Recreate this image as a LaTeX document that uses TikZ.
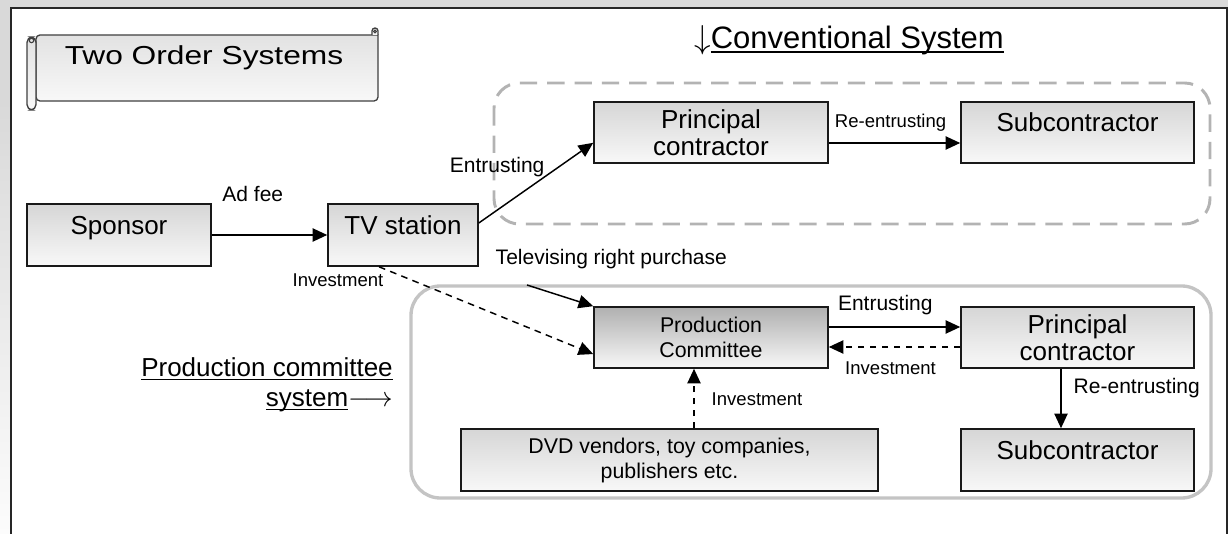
\documentclass[tikz,border=0pt]{standalone}
\usepackage{fontspec}
\setmainfont{Liberation Sans}
\newfontfamily\scrollfont[FakeStretch=1.22]{Liberation Sans}
\usetikzlibrary{arrows.meta,calc}
\definecolor{framegray}{HTML}{D9D9D9}
\definecolor{convgray}{HTML}{B3B3B3}
\definecolor{prodgray}{HTML}{C4C4C4}
\definecolor{boxtop}{HTML}{D6D6D6}
\definecolor{boxbot}{HTML}{F8F8F8}
\definecolor{darktop}{HTML}{B0B0B0}
\definecolor{scrolltop}{HTML}{E2E2E2}
\newsavebox{\ulbox}
\newcommand{\ultext}[1]{\sbox{\ulbox}{#1}\rlap{\rule[-0.14em]{\wd\ulbox}{0.065em}}\usebox{\ulbox}}

\begin{document}
\begin{tikzpicture}[x=0.75pt,y=-0.75pt,
    box/.style={rectangle,draw=black!90,line width=1.2pt,top color=boxtop,bottom color=boxbot,minimum height=46.5pt,inner sep=2pt,align=center,font=\fontsize{19.5}{20.25}\selectfont},
    onerow/.style={text height=0.72em,text depth=0.86em},
    smallbox/.style={box,font=\fontsize{16}{18.75}\selectfont},
    darkbox/.style={smallbox,top color=darktop},
    scrollpart/.style={draw=black!75,line width=1pt,top color=scrolltop,bottom color=boxbot},
    arr/.style={-{Triangle[length=11pt,width=10pt]},line width=1.1pt},
    darr/.style={arr,dash pattern=on 5pt off 4pt},
    lbl/.style={font=\fontsize{15.75}{17}\selectfont,inner sep=0pt},
    slbl/.style={font=\fontsize{13.9}{15}\selectfont,inner sep=0pt},
    ttl/.style={inner sep=0pt,font=\fontsize{19.5}{22.5}\selectfont},
  ]
  \useasboundingbox (0,0) rectangle (1228,534);
  \fill[framegray] (0,0) rectangle (1228,534);
  \shade[top color=framegray,bottom color=white!92!framegray] (0,100) rectangle (11,534);
  \fill[white] (11,8) rectangle (1227,534);
  \draw[line width=1.5pt,black!85] (11,534) -- (11,8) -- (1227,8) -- (1227,534);

  % title scroll
  \path[scrollpart] (36,35) -- (378,35) [rounded corners=3] -- (378,101) -- (36,101) -- cycle;
  \draw[scrollpart] (372,35) -- (372,31) arc[start angle=180,end angle=360,radius=3] -- (378,35);
  \draw[black!75,line width=0.8pt] (375,31.5) circle[radius=1.3];
  \draw[scrollpart,rounded corners=4] (27,37) rectangle (36,110);
  \draw[black!75,line width=0.8pt] (31.5,40.5) circle[radius=2.2];
  \node[anchor=base,inner sep=0pt,font=\scrollfont\fontsize{19.5}{22}\selectfont] (title) at (204,65) {Two Order Systems};

  \node[ttl,anchor=base west,font=\fontsize{23.25}{26}\selectfont] (convtitle) at (694,49) {$\downarrow$\ultext{Conventional System}};
  \node[ttl,align=right,anchor=south east] (pctitle) at (393,412.5) {\ultext{Production committee}\\\ultext{system}$\longrightarrow$};

  % system frames
  \draw[convgray,line width=2.2pt,dash pattern=on 13pt off 7.5pt,rounded corners=19pt] (494,83) rectangle (1210,224);
  \draw[prodgray,line width=2.5pt,rounded corners=22pt] (411,286) rectangle (1211,498);

  \node[box,onerow,minimum width=138pt] (sponsor) at (119,235) {Sponsor};
  \node[box,onerow,minimum width=112.5pt] (tv) at (403,235) {TV station};
  \node[box,minimum width=175.5pt,minimum height=45.75pt] (pcA) at (711,132.5) {Principal\\contractor};
  \node[box,onerow,minimum width=174.75pt,minimum height=45.75pt] (subA) at (1077.5,132.5) {Subcontractor};
  \node[darkbox,minimum width=175.5pt,minimum height=45.75pt] (prod) at (711,337.5) {Production\\Committee};
  \node[box,minimum width=174.75pt,minimum height=45.75pt] (pcB) at (1077.5,337.5) {Principal\\contractor};
  \node[box,onerow,minimum width=174.75pt] (subB) at (1077.5,460) {Subcontractor};
  \node[smallbox,minimum width=312.75pt] (dvd) at (669.5,460) {DVD vendors, toy companies,\\publishers etc.};
  \coordinate (tvright) at (527,285);

  \draw[arr] (sponsor) -- (tv) node[lbl,pos=.355,anchor=base,yshift=24.75pt]{Ad fee};
  \draw[arr] (tv.9) -- (pcA.185) node[lbl,pos=.16,anchor=base,yshift=27.9pt]{Entrusting};
  \draw[arr] ($(pcA.east)+(0,10.5)$) -- ($(subA.west)+(0,10.5)$) node[slbl,pos=.47,anchor=base,yshift=11.25pt]{Re-entrusting};
  \draw[arr] (tvright) -- (prod.north west) node[lbl,pos=0,anchor=base west,xshift=-24pt,yshift=15pt]{Televising right purchase};
  \draw[darr] (tv.233) -- (prod.188.5) node[slbl,pos=0,anchor=base east,xshift=3.75pt,yshift=-15pt]{Investment};
  \draw[arr] ($(prod.east)+(0,-10.5)$) -- ($(pcB.west)+(0,-10.5)$) node[lbl,pos=.43,anchor=base,yshift=12pt]{Entrusting};
  \draw[darr] ($(pcB.west)+(0,9.5)$) -- ($(prod.east)+(0,9.5)$) node[slbl,pos=.53,anchor=base,yshift=-21pt]{Investment};
  \draw[arr] ($(pcB.south)+(-16.5,0)$) -- ($(subB.north)+(-16.5,0)$) node[lbl,midway,anchor=base west,xshift=9pt,yshift=3.4pt]{Re-entrusting};
  \draw[darr] ($(dvd.north)+(24.5,0)$) -- ($(prod.south)+(-17,0)$) node[slbl,midway,anchor=base west,xshift=12.75pt,yshift=-5.6pt]{Investment};
\end{tikzpicture}
\end{document}
